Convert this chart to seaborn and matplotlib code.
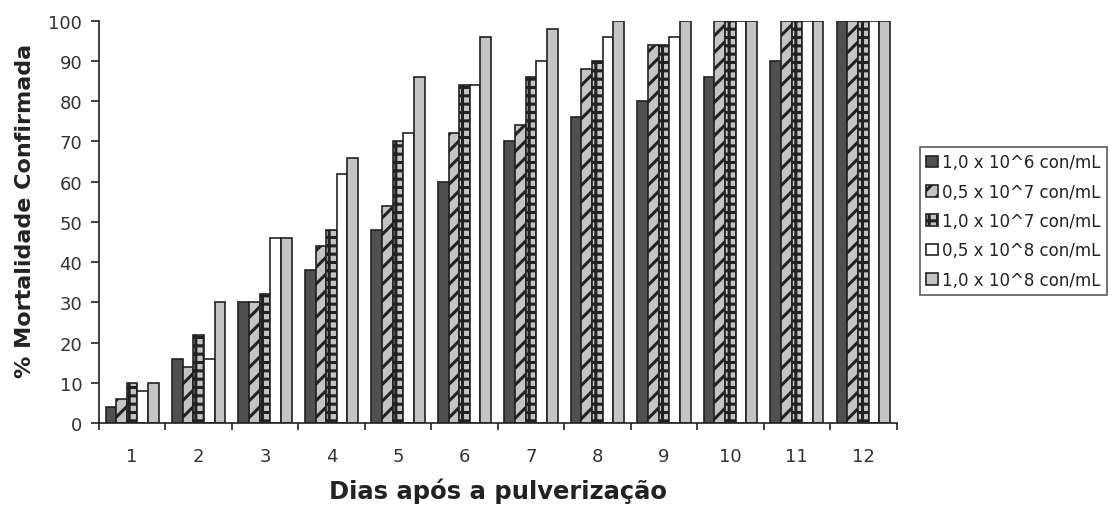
import matplotlib
matplotlib.use("Agg")
import matplotlib.pyplot as plt
import seaborn as sns
import pandas as pd
import numpy as np

days = ["1", "2", "3", "4", "5", "6", "7", "8", "9", "10", "11", "12"]
series_names = ["1,0 x 10^6 con/mL", "0,5 x 10^7 con/mL", "1,0 x 10^7 con/mL",
                "0,5 x 10^8 con/mL", "1,0 x 10^8 con/mL"]
s1 = [4, 16, 30, 38, 48, 60, 70, 76, 80, 86, 90, 100]
s2 = [6, 14, 30, 44, 54, 72, 74, 88, 94, 100, 100, 100]
s3 = [10, 22, 32, 48, 70, 84, 86, 90, 94, 100, 100, 100]
s4 = [8, 16, 46, 62, 72, 84, 90, 96, 96, 100, 100, 100]
s5 = [10, 30, 46, 66, 86, 96, 98, 100, 100, 100, 100, 100]
yticks = [0, 10, 20, 30, 40, 50, 60, 70, 80, 90, 100]

rows = []
for name, vals in zip(series_names, [s1, s2, s3, s4, s5]):
    for d, v in zip(days, vals):
        rows.append({"Dia": d, "Serie": name, "Valor": v})
df = pd.DataFrame(rows)

sns.set_theme(style="white")
plt.rcParams['font.family'] = ['DejaVu Sans']
plt.rcParams['hatch.linewidth'] = 2.2
plt.rcParams['hatch.color'] = "#333333"

fig = plt.figure(figsize=(11.11, 5.06), dpi=100)
ax = fig.add_axes([0.089, 0.162, 0.718, 0.795])

facecolors = ["#505050", "#c4c4c4", "#c4c4c4", "#ffffff", "#c4c4c4"]
hatches = [None, "//", "++", None, None]
palette = dict(zip(series_names, facecolors))

sns.barplot(data=df, x="Dia", y="Valor", hue="Serie", order=days,
            hue_order=series_names, palette=palette, width=0.8,
            edgecolor="#222222", linewidth=1.2, saturation=1, ax=ax,
            legend=True)

for cont, fc, h in zip(ax.containers, facecolors, hatches):
    for p in cont:
        p.set_facecolor(fc)
        p.set_edgecolor("#222222")
        if h:
            p.set_hatch(h)

tick_color = "#333333"
ax.set_ylim(0, 100)
ax.set_xlim(-0.5, 11.5)
ax.set_yticks(yticks)
ax.set_yticklabels([str(t) for t in yticks], fontsize=13, color=tick_color)
ax.set_xticks(range(len(days)))
ax.set_xticklabels(days, fontsize=13, color=tick_color)
ax.set_xticks(np.arange(-0.5, 12, 1), minor=True)
ax.tick_params(axis="x", which="major", length=0, pad=17)
ax.tick_params(axis="x", which="minor", length=5, width=1.2, color="#222222", direction="out", bottom=True)
ax.tick_params(axis="y", which="major", length=6, width=1.2, color="#222222", direction="out", left=True, pad=6)

for side in ["top", "right"]:
    ax.spines[side].set_visible(False)
for side in ["left", "bottom"]:
    ax.spines[side].set_color("#222222")
    ax.spines[side].set_linewidth(1.2)

ax.set_ylabel("% Mortalidade Confirmada", fontsize=16, fontweight="bold", color="#222222", labelpad=9)
ax.yaxis.set_label_coords(-0.08, 0.53)
ax.set_xlabel("Dias após a pulverização", fontsize=17.5, fontweight="bold", color="#222222", labelpad=9)

handles, labels = ax.get_legend_handles_labels()
for hd, fc, h in zip(handles, facecolors, hatches):
    hd.set_facecolor(fc)
    hd.set_edgecolor("#222222")
    if h:
        hd.set_hatch(h)
leg = ax.legend(handles, labels, loc="center left", bbox_to_anchor=(1.029, 0.502),
                borderaxespad=0, fontsize=12, frameon=True, fancybox=False,
                edgecolor="#333333", handlelength=0.7, handleheight=0.7,
                handletextpad=0.25, labelspacing=0.68, borderpad=0.4)
leg.get_frame().set_linewidth(1.2)
for t in leg.get_texts():
    t.set_color("#222222")

fig.savefig("out.png", dpi=100, facecolor="white")
